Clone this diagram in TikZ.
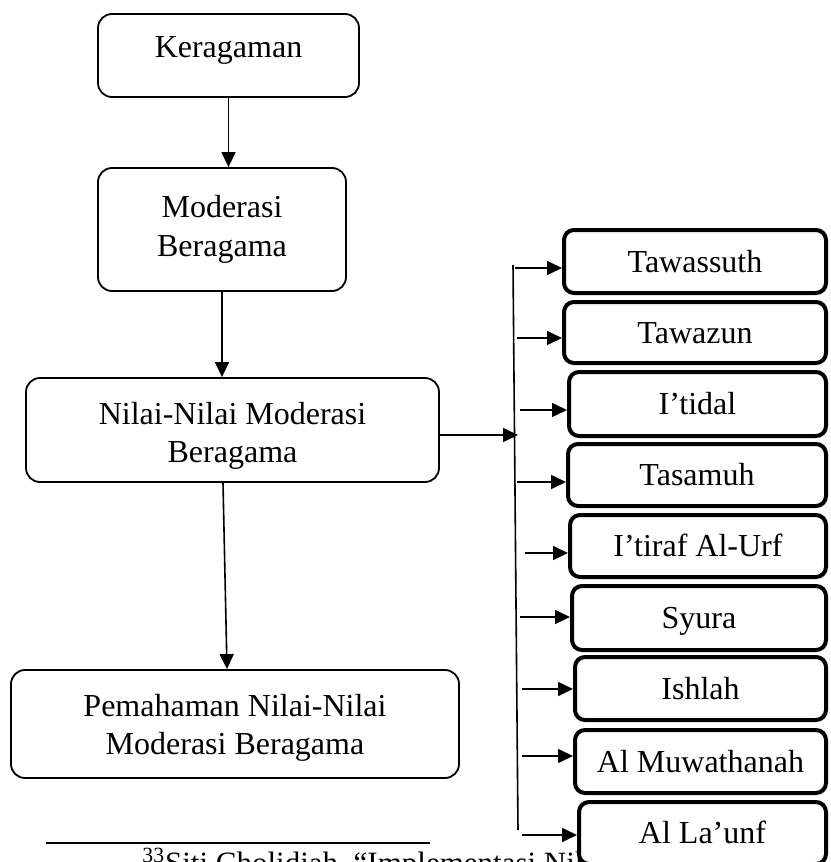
\documentclass[tikz,border=0pt]{standalone}
\usepackage{fontspec}
\setmainfont{Liberation Serif}
\usetikzlibrary{arrows.meta}

\tikzstyle{arrow} = [line width=0.8pt,-{Triangle[length=7.5pt,width=7pt]}]
\tikzstyle{tahap} = [
        rectangle,
        rounded corners=7pt,
        align=center,
        inner sep=0pt,
        draw=black,
        line width=0.9pt,
        font=\fontsize{16}{19.3}\selectfont
    ]
\tikzstyle{prinsip} = [
        rectangle,
        rounded corners=5pt,
        text centered,
        inner sep=0pt,
        text height=10.5pt,
        text depth=0pt,
        draw=black,
        fill=white,
        line width=2pt,
        font=\fontsize{16}{19.3}\selectfont
    ]

\begin{document}
\begin{tikzpicture}[x=0.5pt,y=-0.5pt]
        \useasboundingbox (0,0) rectangle (830,862);
        \clip (0,0) rectangle (830,862);
        % alur utama
        \node [tahap, minimum width=130.5pt, minimum height=41.5pt, text depth=8.4pt] (kera) at (228.5,55.5) {Keragaman};
        \node [tahap, minimum width=124pt, minimum height=61.5pt] (mod) at (222,229.5) {Moderasi\\Beragama};
        \node [tahap, minimum width=206.5pt, minimum height=52pt] (nilai) at (232.5,430) {\rule{0pt}{17pt}Nilai-Nilai Moderasi\\Beragama};
        \node [tahap, minimum width=224pt, minimum height=54pt] (pem) at (235,724) {\rule{0pt}{15pt}Pemahaman Nilai-Nilai\\Moderasi Beragama};
        \draw [arrow] (kera.south) -- (kera.south |- mod.north);
        \draw [arrow] (mod.south) -- (mod.south |- nilai.north);
        \draw [arrow] ([xshift=-4.75pt]nilai.south) -- ([xshift=-4pt]pem.north);
        % catatan kaki
        \draw [line width=1.25pt] (46,843) -- (430,843);
        \node [anchor=base west, inner sep=0pt, font=\fontsize{15.5}{18}\selectfont] (catatan) at (142,873) {\textsuperscript{33}Siti Cholidiah, “Implementasi Nilai};
        % garis cabang
        \coordinate (busAtas) at (513,265);
        \coordinate (busBawah) at (518,830);
        \coordinate (masuk) at (518,435);
        \draw [line width=0.8pt] (busAtas) -- (busBawah);
        \draw [arrow] (nilai.east |- masuk) -- (masuk);
        % nilai-nilai
        \node [prinsip, minimum width=131pt, minimum height=31.5pt] (tawassuth) at (695,261.5) {Tawassuth};
        \node [prinsip, minimum width=131pt, minimum height=30.5pt] (tawazun) at (695,332.5) {Tawazun};
        \node [prinsip, minimum width=128.5pt, minimum height=32pt] (itidal) at (697.5,404) {I’tidal};
        \node [prinsip, minimum width=129pt, minimum height=31pt] (tasamuh) at (697,475) {Tasamuh};
        \node [prinsip, minimum width=128pt, minimum height=31pt] (itiraf) at (698,546) {I’tiraf Al-Urf};
        \node [prinsip, minimum width=127pt, minimum height=32pt] (syura) at (699,618) {Syura};
        \node [prinsip, minimum width=125.5pt, minimum height=31.5pt] (ishlah) at (700.5,688.5) {Ishlah};
        \node [prinsip, minimum width=125.5pt, minimum height=31.5pt] (muwathanah) at (700.5,761.5) {Al Muwathanah};
        \node [prinsip, minimum width=123.5pt, minimum height=31pt] (launf) at (702.5,833) {Al La’unf};
        \foreach \n/\dy/\len in {tawassuth/-3.25/23.5, tawazun/-2.75/22.5, itidal/-3/23.5, tasamuh/-3.5/24.5, itiraf/-3.5/21.5, syura/0.5/25, ishlah/-0.25/25.5, muwathanah/2.75/25.5, launf/-1/27.5}
            \draw [arrow] ([xshift=-\len pt, yshift=\dy pt]\n.west) -- ([yshift=\dy pt]\n.west);
    \end{tikzpicture}
\end{document}
